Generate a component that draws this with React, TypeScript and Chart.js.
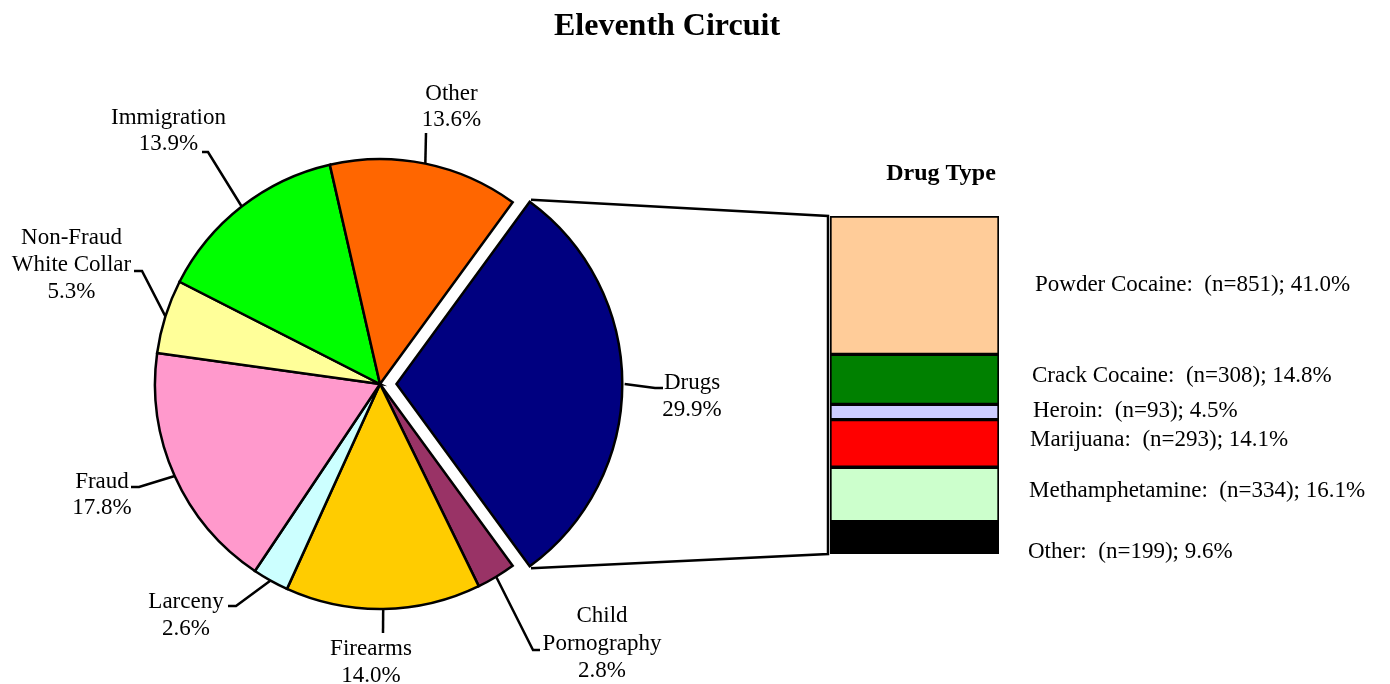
import React, { useEffect, useRef } from "react";
import { Chart, registerables } from "chart.js";

Chart.register(...registerables);

// ---------- data ----------
const TITLE = "Eleventh Circuit";
const categories = [
  "Drugs",
  "Child Pornography",
  "Firearms",
  "Larceny",
  "Fraud",
  "Non-Fraud White Collar",
  "Immigration",
  "Other",
];
const categoryLabelLines = [
  ["Drugs"],
  ["Child", "Pornography"],
  ["Firearms"],
  ["Larceny"],
  ["Fraud"],
  ["Non-Fraud", "White Collar"],
  ["Immigration"],
  ["Other"],
];
const categoryPercents = [29.9, 2.8, 14.0, 2.6, 17.8, 5.3, 13.9, 13.6];
const categoryColors = [
  "#000080",
  "#993366",
  "#FFCC00",
  "#CCFFFF",
  "#FF99CC",
  "#FFFF99",
  "#00FF00",
  "#FF6600",
];

const DRUG_TITLE = "Drug Type";
const drugTypes = ["Powder Cocaine", "Crack Cocaine", "Heroin", "Marijuana", "Methamphetamine", "Other"];
const drugCounts = [851, 308, 93, 293, 334, 199];
const drugPercents = [41.0, 14.8, 4.5, 14.1, 16.1, 9.6];
const drugColors = ["#FFCC99", "#008000", "#CCCCFF", "#FF0000", "#CCFFCC", "#000000"];

// ---------- layout ----------
const W = 1390;
const H = 684;
const PIE_CX = 380;
const PIE_CY = 384;
const PIE_R = 225;
const EXPLODE = 66; // chart.js arc offset (translation = offset / 4)
const BAR_LEFT = 830;
const BAR_RIGHT = 999;
const BAR_TOP = 216;
const BAR_BOTTOM = 554;
const LINE_W = 2.5;
const SERIF = '"Liberation Serif", "Times New Roman", serif';
const LABEL_FONT = `23px ${SERIF}`;
const TITLE_POS = [667, 35];

// label text anchor / leader elbow points, relative to the pie centre
const pieLabelLayout = [
  { text: [312, -1], lh: 26.5, leader: [[275, 4], [283, 4]] },
  { text: [222, 232], lh: 27.5, leader: [[153, 266], [160, 266]] },
  { text: [-9, 265], lh: 27, leader: [[3, 249]] },
  { text: [-194, 218], lh: 27, leader: [[-144, 222], [-152, 222]] },
  { text: [-278, 98], lh: 26, leader: [[-241, 103], [-249, 103]] },
  { text: [-308.5, -146], lh: 27, leader: [[-238, -113], [-246, -113]] },
  { text: [-211.5, -266], lh: 26, leader: [[-172, -232], [-178, -232]] },
  { text: [71.5, -290], lh: 26, leader: [[46, -251]] },
];
// drug label shift: x from bar right edge, y from segment centre
const drugLabelShift = [
  [36, 0],
  [33, -3],
  [34, -1.5],
  [31, -3],
  [30, -3.5],
  [29, 14],
];

function arcGeom(arc: any) {
  const p = arc.getProps(["x", "y", "startAngle", "endAngle", "outerRadius", "circumference"]);
  const offRaw = (arc.options && arc.options.offset) || 0;
  const off = offRaw / 4;
  const half = (p.startAngle + p.endAngle) / 2;
  const fix = 1 - Math.sin(Math.min(Math.PI, p.circumference || 0));
  return {
    ox: p.x,
    oy: p.y,
    cx: p.x + Math.cos(half) * off,
    cy: p.y + Math.sin(half) * off,
    r: p.outerRadius + offRaw * fix,
    start: p.startAngle,
    end: p.endAngle,
  };
}

export default function App() {
  const pieRef = useRef<HTMLCanvasElement>(null);
  const barRef = useRef<HTMLCanvasElement>(null);

  useEffect(() => {
    if (!pieRef.current || !barRef.current) return;
    const total = categoryPercents.reduce((a, b) => a + b, 0);
    const rotation = 90 - ((categoryPercents[0] / total) * 360) / 2;
    const drugTotal = drugPercents.reduce((a, b) => a + b, 0);

    const piePlugin = {
      id: "pieLabels",
      afterDraw(chart: any) {
        const ctx = chart.ctx;
        const meta = chart.getDatasetMeta(0);
        ctx.save();
        ctx.fillStyle = "#000";
        ctx.strokeStyle = "#000";
        ctx.lineWidth = LINE_W;
        ctx.lineJoin = "miter";
        ctx.font = `bold 32px ${SERIF}`;
        ctx.textAlign = "center";
        ctx.textBaseline = "alphabetic";
        ctx.fillText(TITLE, TITLE_POS[0], TITLE_POS[1]);
        ctx.font = LABEL_FONT;
        ctx.textBaseline = "middle";
        meta.data.forEach((arc: any, i: number) => {
          const g = arcGeom(arc);
          const mid = (g.start + g.end) / 2;
          const px = g.cx + g.r * Math.cos(mid);
          const py = g.cy + g.r * Math.sin(mid);
          const lay = pieLabelLayout[i];
          ctx.beginPath();
          ctx.moveTo(px, py);
          lay.leader.forEach(([dx, dy]) => ctx.lineTo(g.ox + dx, g.oy + dy));
          ctx.stroke();
          const lines = [...categoryLabelLines[i], categoryPercents[i].toFixed(1) + "%"];
          lines.forEach((s, k) => ctx.fillText(s, g.ox + lay.text[0], g.oy + lay.text[1] + k * lay.lh));
        });
        ctx.restore();
      },
    };

    const pie = new Chart(pieRef.current, {
      type: "pie",
      data: {
        labels: categories,
        datasets: [
          {
            data: categoryPercents,
            backgroundColor: categoryColors,
            borderColor: "#000",
            borderWidth: LINE_W,
            borderJoinStyle: "miter",
            offset: categoryPercents.map((_, i) => (i === 0 ? EXPLODE : 0)),
          } as any,
        ],
      },
      options: {
        responsive: false,
        animation: false,
        devicePixelRatio: 1,
        events: [],
        rotation,
        radius: PIE_R,
        layout: {
          padding: { left: 0, right: W - 2 * PIE_CX, top: 2 * PIE_CY - H, bottom: 0 },
        },
        plugins: { legend: { display: false }, tooltip: { enabled: false }, title: { display: false } },
      } as any,
      plugins: [piePlugin],
    });

    const barPlugin = {
      id: "drugLabels",
      afterDraw(chart: any) {
        const ctx = chart.ctx;
        const ys = chart.scales.y;
        const area = chart.chartArea;
        const top = ys.getPixelForValue(0);
        const bottom = ys.getPixelForValue(drugTotal);
        ctx.save();
        ctx.strokeStyle = "#000";
        ctx.fillStyle = "#000";
        ctx.lineWidth = LINE_W;
        ctx.lineJoin = "miter";
        // connector from exploded slice to the bar
        const arc = pie.getDatasetMeta(0).data[0];
        const g = arcGeom(arc);
        const sx = g.cx + g.r * Math.cos(g.start);
        const sy = g.cy + g.r * Math.sin(g.start);
        const ex = g.cx + g.r * Math.cos(g.end);
        const ey = g.cy + g.r * Math.sin(g.end);
        ctx.beginPath();
        ctx.moveTo(sx, sy);
        ctx.lineTo(area.left - 2, top);
        ctx.lineTo(area.left - 2, bottom);
        ctx.lineTo(ex, ey);
        ctx.stroke();
        // title
        ctx.font = `bold 24px ${SERIF}`;
        ctx.textAlign = "center";
        ctx.textBaseline = "middle";
        ctx.fillText(DRUG_TITLE, (area.left + area.right) / 2 + 26.5, top - 42);
        // labels
        ctx.font = LABEL_FONT;
        ctx.textAlign = "left";
        let cum = 0;
        drugTypes.forEach((name, i) => {
          const y0 = ys.getPixelForValue(cum);
          cum += drugPercents[i];
          const y1 = ys.getPixelForValue(cum);
          const txt = `${name}:  (n=${drugCounts[i]}); ${drugPercents[i].toFixed(1)}%`;
          ctx.fillText(txt, area.right + drugLabelShift[i][0], (y0 + y1) / 2 + drugLabelShift[i][1]);
        });
        ctx.restore();
      },
    };

    const bar = new Chart(barRef.current, {
      type: "bar",
      data: {
        labels: [DRUG_TITLE],
        datasets: drugTypes.map((name, i) => ({
          label: name,
          data: [drugPercents[i]],
          backgroundColor: drugColors[i],
          borderColor: "#000",
          borderWidth: 2,
          borderSkipped: false,
          barPercentage: 1,
          categoryPercentage: 1,
          stack: "drugs",
        })),
      },
      options: {
        responsive: false,
        animation: false,
        devicePixelRatio: 1,
        events: [],
        layout: {
          padding: { left: BAR_LEFT, right: W - BAR_RIGHT, top: BAR_TOP, bottom: H - BAR_BOTTOM },
        },
        scales: {
          x: { stacked: true, display: false },
          y: { stacked: true, display: false, reverse: true, min: 0, max: drugTotal },
        },
        plugins: { legend: { display: false }, tooltip: { enabled: false }, title: { display: false } },
      } as any,
      plugins: [barPlugin],
    });

    return () => {
      bar.destroy();
      pie.destroy();
    };
  }, []);

  return (
    <div style={{ position: "absolute", left: 0, top: 0, width: W, height: H, background: "#fff" }}>
      <canvas ref={pieRef} width={W} height={H} style={{ position: "absolute", left: 0, top: 0 }} />
      <canvas ref={barRef} width={W} height={H} style={{ position: "absolute", left: 0, top: 0 }} />
    </div>
  );
}
